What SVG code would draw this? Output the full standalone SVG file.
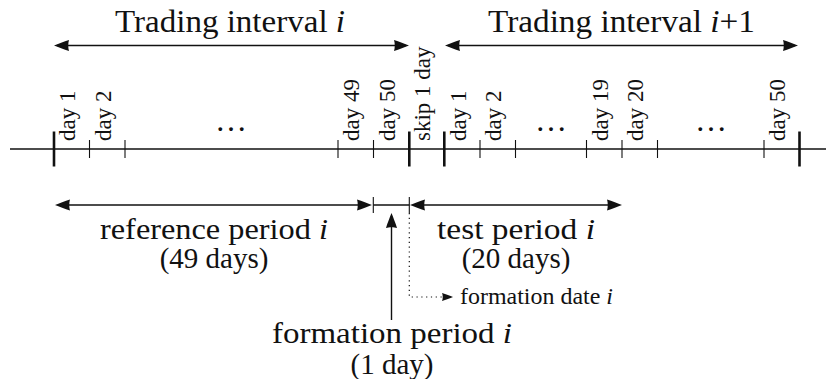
<svg xmlns="http://www.w3.org/2000/svg" width="836" height="379" viewBox="0 0 836 379">
<defs>
<style>
text{font-family:"Liberation Serif","Times New Roman",serif;fill:#111}
.big{font-size:32px}
.mid{font-size:30px}
.mid2{font-size:29px}
.lab{font-size:23px}
.sm{font-size:23px}
.it{font-style:italic}
.ln{stroke:#111;stroke-width:1.4;fill:none}
.bt{stroke:#111;stroke-width:2.6}
.st{stroke:#111;stroke-width:1.1}
.dot{stroke:#111;stroke-width:1.2;stroke-dasharray:1.2 3.6;fill:none}
</style>
<marker id="ah" viewBox="-16 -6 17 12" refX="-3" refY="0" markerWidth="17" markerHeight="12" markerUnits="userSpaceOnUse" orient="auto-start-reverse">
<path d="M0,0 C-4,-1.6 -10,-4 -15,-5.5 C-14,-2.5 -14,2.5 -15,5.5 C-10,4 -4,1.6 0,0 Z" fill="#111"/>
</marker>
<marker id="ahs" viewBox="-12 -5 13 10" refX="-2" refY="0" markerWidth="13" markerHeight="10" markerUnits="userSpaceOnUse" orient="auto">
<path d="M0,0 C-3,-1.2 -7,-3 -11,-4 C-10,-2 -10,2 -11,4 C-7,3 -3,1.2 0,0 Z" fill="#111"/>
</marker>
</defs>
<rect width="836" height="379" fill="#fff"/>

<g id="title-interval-i">
<text class="big" x="115" y="32" textLength="230" lengthAdjust="spacingAndGlyphs">Trading interval <tspan class="it">i</tspan></text>
</g>
<g id="title-interval-i1">
<text class="big" x="488" y="32" textLength="267" lengthAdjust="spacingAndGlyphs">Trading interval <tspan class="it">i</tspan>+1</text>
</g>

<g id="timeline">
<line class="ln" x1="10" y1="149" x2="826" y2="149"/>
<line class="bt" x1="54" y1="131.5" x2="54" y2="166.5"/>
<line class="bt" x1="409.3" y1="131.5" x2="409.3" y2="166.5"/>
<line class="bt" x1="444.3" y1="131.5" x2="444.3" y2="166.5"/>
<line class="bt" x1="799.5" y1="131.5" x2="799.5" y2="166.5"/>
<g class="st">
<line x1="89.5" y1="140" x2="89.5" y2="158"/>
<line x1="125" y1="140" x2="125" y2="158"/>
<line x1="338" y1="140" x2="338" y2="158"/>
<line x1="373.5" y1="140" x2="373.5" y2="158"/>
<line x1="480" y1="140" x2="480" y2="158"/>
<line x1="515.5" y1="140" x2="515.5" y2="158"/>
<line x1="586.5" y1="140" x2="586.5" y2="158"/>
<line x1="622" y1="140" x2="622" y2="158"/>
<line x1="657.5" y1="140" x2="657.5" y2="158"/>
<line x1="764" y1="140" x2="764" y2="158"/>
</g>
</g>

<g id="day-labels" class="lab">
<text transform="translate(75.3,141) rotate(-90)">day 1</text>
<text transform="translate(110.8,141) rotate(-90)">day 2</text>
<text transform="translate(359.3,141) rotate(-90)">day 49</text>
<text transform="translate(394.8,141) rotate(-90)">day 50</text>
<text transform="translate(430.3,141) rotate(-90)">skip 1 day</text>
<text transform="translate(465.8,141) rotate(-90)">day 1</text>
<text transform="translate(501.3,141) rotate(-90)">day 2</text>
<text transform="translate(607.8,141) rotate(-90)">day 19</text>
<text transform="translate(643.3,141) rotate(-90)">day 20</text>
<text transform="translate(785.3,141) rotate(-90)">day 50</text>
<text style="font-size:32px" x="231" y="131" text-anchor="middle">…</text>
<text style="font-size:32px" x="551" y="131" text-anchor="middle">…</text>
<text style="font-size:32px" x="711" y="131" text-anchor="middle">…</text>
</g>

<g id="period-ticks" class="st">
<line x1="373.3" y1="197" x2="373.3" y2="213"/>
<line x1="409.3" y1="197" x2="409.3" y2="213"/>
<line class="ln" x1="373.3" y1="205" x2="409.3" y2="205"/>
</g>

<g id="reference-period">
<text class="mid" x="100" y="238.5" textLength="228" lengthAdjust="spacingAndGlyphs">reference period <tspan class="it">i</tspan></text>
<text class="mid2" x="214" y="268" text-anchor="middle">(49 days)</text>
</g>
<g id="test-period">
<text class="mid" x="437" y="239" textLength="158" lengthAdjust="spacingAndGlyphs">test period <tspan class="it">i</tspan></text>
<text class="mid2" x="516" y="268" text-anchor="middle">(20 days)</text>
</g>
<g id="formation-period">
<text class="mid" x="272" y="343" textLength="240" lengthAdjust="spacingAndGlyphs">formation period <tspan class="it">i</tspan></text>
<text class="mid2" x="392" y="373.5" text-anchor="middle">(1 day)</text>
</g>
<g id="formation-date">
<text class="sm" x="460" y="304" textLength="153" lengthAdjust="spacingAndGlyphs">formation date <tspan class="it">i</tspan></text>
</g>

<g id="connectors">
<line class="ln" x1="57" y1="45.5" x2="406" y2="45.5" marker-start="url(#ah)" marker-end="url(#ah)"/>
<line class="ln" x1="448" y1="45.5" x2="795" y2="45.5" marker-start="url(#ah)" marker-end="url(#ah)"/>
<line class="ln" x1="58" y1="205" x2="369" y2="205" marker-start="url(#ah)" marker-end="url(#ah)"/>
<line class="ln" x1="413" y1="205" x2="619" y2="205" marker-start="url(#ah)" marker-end="url(#ah)"/>
<line class="ln" x1="391.5" y1="320" x2="391.5" y2="216" marker-end="url(#ah)"/>
<path class="dot" d="M409.3,213 V297 H451" marker-end="url(#ahs)"/>
</g>
</svg>
